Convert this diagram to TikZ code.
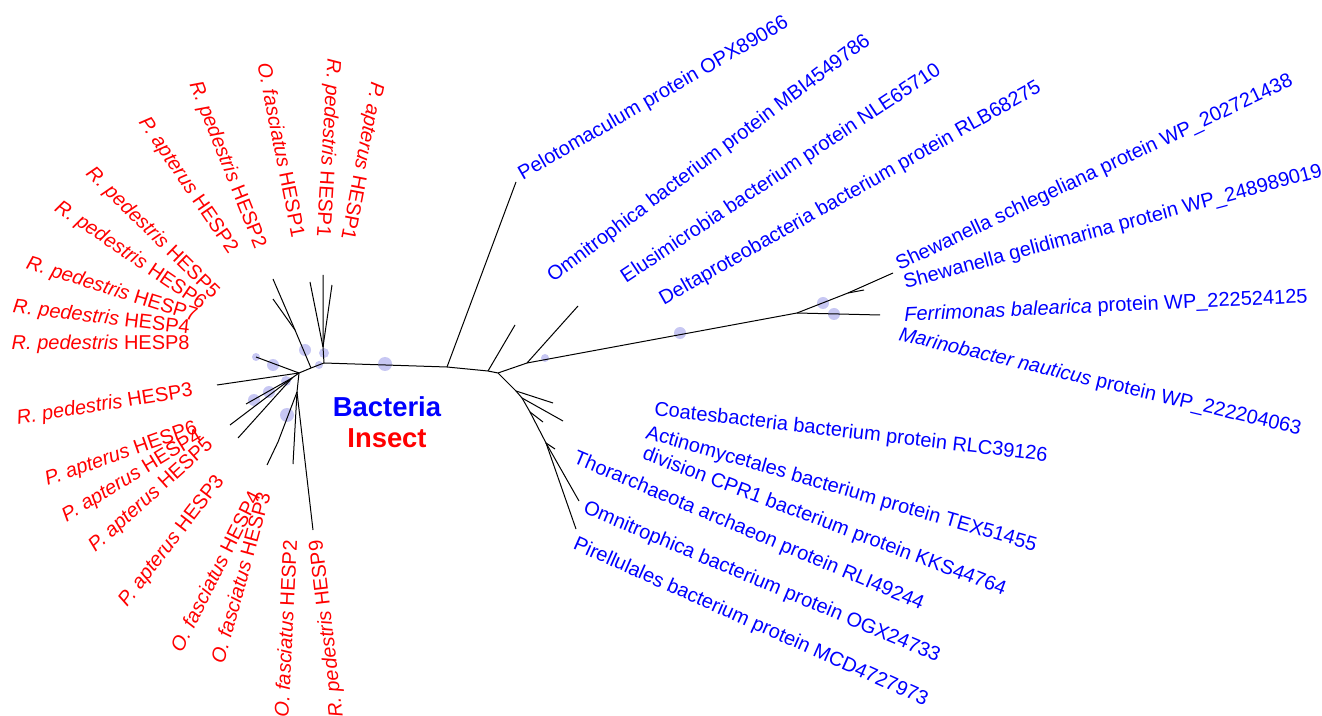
\documentclass[tikz,border=0pt]{standalone}
\usepackage{fontspec}
\setmainfont{Liberation Sans}
\usetikzlibrary{positioning}
\definecolor{lavanda}{RGB}{196,196,242}
\tikzstyle{rama} = [black, line width=0.5pt]
\tikzstyle{soporte} = [fill=lavanda, fill opacity=0.95, draw=none]
\tikzstyle{insecto} = [text=red, inner sep=0pt, anchor=east, font=\fontsize{10}{12}\selectfont]
\tikzstyle{bacteria} = [text=blue, inner sep=0pt, anchor=west, font=\fontsize{10}{12}\selectfont]
\tikzstyle{grupo} = [inner sep=0pt, font=\fontsize{13.7}{16}\selectfont\bfseries]
\newcommand{\especie}[1]{\textit{#1}}

\begin{document}
\begin{tikzpicture}[x=0.5pt, y=-0.5pt]
	\useasboundingbox (0,0) rectangle (1322,716);
	% soporte de ramas
	\fill[soporte] (385,364) circle (7);
	\fill[soporte] (305,350) circle (6);
	\fill[soporte] (324,353) circle (5);
	\fill[soporte] (319,365) circle (4);
	\fill[soporte] (256,357) circle (4);
	\fill[soporte] (273,365) circle (6);
	\fill[soporte] (286,381) circle (5);
	\fill[soporte] (269,392) circle (6);
	\fill[soporte] (254,400) circle (6);
	\fill[soporte] (287,415) circle (7);
	\fill[soporte] (545,358) circle (4);
	\fill[soporte] (680,333) circle (6);
	\fill[soporte] (823,303) circle (6);
	\fill[soporte] (834,314) circle (6);
	% nodos internos
	\coordinate (A) at (324,363);
	\coordinate (A1) at (323,347);
	\coordinate (D) at (311,368);
	\coordinate (E) at (295,330);
	\coordinate (C) at (299,373);
	\coordinate (F) at (292,378);
	\coordinate (K) at (297,392);
	\coordinate (K1) at (278,442);
	\coordinate (B1) at (447,367);
	\coordinate (B2) at (488,371);
	\coordinate (B3) at (498,373);
	\coordinate (N1) at (527,363);
	\coordinate (N2) at (797,313);
	\coordinate (N3) at (848,293);
	\coordinate (M1) at (516,391);
	\coordinate (M2) at (522,398);
	\coordinate (M3) at (530,412);
	\coordinate (M4) at (546,443);
	% hojas
	\coordinate (l1) at (323,275);
	\coordinate (l2) at (310,282);
	\coordinate (l3) at (332,285);
	\coordinate (l4) at (273,279);
	\coordinate (l5) at (273,299);
	\coordinate (l6) at (256,357);
	\coordinate (l7) at (217,385);
	\coordinate (l8) at (230,425);
	\coordinate (l9) at (238,438);
	\coordinate (l10) at (246,404);
	\coordinate (l11) at (267,465);
	\coordinate (l12) at (293,464);
	\coordinate (l13) at (313,530);
	\coordinate (pelo) at (516,182);
	\coordinate (omni) at (515,325);
	\coordinate (elus) at (578,306);
	\coordinate (shs) at (893,273);
	\coordinate (shg) at (864,290);
	\coordinate (ferr) at (880,315);
	\coordinate (coat) at (553,403);
	\coordinate (acti) at (563,421);
	\coordinate (divi) at (543,422);
	\coordinate (thor) at (555,449);
	\coordinate (ogx) at (579,501);
	\coordinate (pire) at (576,529);
	% ramas
	\draw[rama] (A) -- (B1) -- (B2) -- (B3);
	\draw[rama] (B1) -- (pelo);
	\draw[rama] (B2) -- (omni);
	\draw[rama] (B3) -- (N1) -- (elus);
	\draw[rama] (N1) -- (N2) -- (ferr);
	\draw[rama] (N2) -- (N3) -- (shs);
	\draw[rama] (N3) -- (shg);
	\draw[rama] (B3) -- (M1) -- (coat);
	\draw[rama] (M1) -- (M2) -- (acti);
	\draw[rama] (M2) -- (M3) -- (divi);
	\draw[rama] (M3) -- (M4) -- (thor);
	\draw[rama] (M4) -- (ogx);
	\draw[rama] (M4) -- (pire);
	\draw[rama] (A) -- (A1) -- (l1);
	\draw[rama] (A1) -- (l2);
	\draw[rama] (A1) -- (l3);
	\draw[rama] (A) -- (D) -- (C);
	\draw[rama] (D) -- (E) -- (l4);
	\draw[rama] (E) -- (l5);
	\draw[rama] (C) -- (l6);
	\draw[rama] (C) -- (l7);
	\draw[rama] (C) -- (F) -- (l8);
	\draw[rama] (F) -- (l9);
	\draw[rama] (F) -- (l10);
	\draw[rama] (C) -- (K) -- (K1) -- (l11);
	\draw[rama] (K) -- (l12);
	\draw[rama] (K) -- (l13);
	% insectos
	\node[insecto, rotate=-100.9] (ptHESP1) at (346,240) {\especie{P. apterus} HESP1};
	\node[insecto, rotate=-93.5] (rpHESP1) at (322,237) {\especie{R. pedestris} HESP1};
	\node[insecto, rotate=-78.7] (ofHESP1) at (299,237) {\especie{O. fasciatus} HESP1};
	\node[insecto, rotate=-68.3] (rpHESP2) at (260,248) {\especie{R. pedestris} HESP2};
	\node[insecto, rotate=-55.6] (ptHESP2) at (233,252) {\especie{P. apterus} HESP2};
	\node[insecto, rotate=-44.5] (rpHESP5) at (216,296) {\especie{R. pedestris} HESP5};
	\node[insecto, rotate=-34.2] (rpHESP6) at (204,306) {\especie{R. pedestris} HESP6};
	\node[insecto, rotate=-17.5] (rpHESP7) at (197,317) {\especie{R. pedestris} HESP7};
	\node[insecto, rotate=-6.9] (rpHESP4) at (190,329) {\especie{R. pedestris} HESP4};
	\node[insecto] (rpHESP8) at (190,344) {\especie{R. pedestris} HESP8};
	\node[insecto, rotate=9.2] (rpHESP3) at (193,391) {\especie{R. pedestris} HESP3};
	\node[insecto, rotate=19.4] (ptHESP6) at (197,428) {\especie{P. apterus} HESP6};
	\node[insecto, rotate=31.2] (ptHESP4) at (201,435) {\especie{P. apterus} HESP4};
	\node[insecto, rotate=42.1] (ptHESP5) at (211,442) {\especie{P. apterus} HESP5};
	\node[insecto, rotate=52.4] (ptHESP3) at (221,478) {\especie{P. apterus} HESP3};
	\node[insecto, rotate=63.3] (ofHESP4) at (255,492) {\especie{O. fasciatus} HESP4};
	\node[insecto, rotate=74.6] (ofHESP3) at (264,492) {\especie{O. fasciatus} HESP3};
	\node[insecto, rotate=87.2] (ofHESP2) at (290,540) {\especie{O. fasciatus} HESP2};
	\node[insecto, rotate=96.7] (rpHESP9) at (317,540) {\especie{R. pedestris} HESP9};
	% bacterias
	\node[bacteria, rotate=30] (opx) at (520,176) {Pelotomaculum protein OPX89066};
	\node[bacteria, rotate=37] (mbi) at (550,279) {Omnitrophica bacterium protein MBI4549786};
	\node[bacteria, rotate=33.6] (nle) at (623,279) {Elusimicrobia bacterium protein NLE65710};
	\node[bacteria, rotate=29.5] (rlb) at (661,301) {Deltaproteobacteria bacterium protein RLB68275};
	\node[bacteria, rotate=25.2] (wp1) at (897,266) {Shewanella schlegeliana protein WP\_202721438};
	\node[bacteria, rotate=15.1] (wp2) at (904,284) {Shewanella gelidimarina protein WP\_248989019};
	\node[bacteria, rotate=2.6] (wp3) at (904,316) {\especie{Ferrimonas balearica} protein WP\_222524125};
	\node[bacteria, rotate=-13.3] (wp4) at (899,335) {\especie{Marinobacter nauticus} protein WP\_222204063};
	\node[bacteria, rotate=-6.7] (rlc) at (654,410) {Coatesbacteria bacterium protein RLC39126};
	\node[bacteria, rotate=-16.2] (tex) at (646,433) {Actinomycetales bacterium protein TEX51455};
	\node[bacteria, rotate=-20.7] (kks) at (643,454) {division CPR1 bacterium protein KKS44764};
	\node[bacteria, rotate=-22.9] (rli) at (574,458) {Thorarchaeota archaeon protein RLI49244};
	\node[bacteria, rotate=-22.8] (ogxt) at (584,508) {Omnitrophica bacterium protein OGX24733};
	\node[bacteria, rotate=-24] (mcd) at (574,544) {Pirellulales bacterium protein MCD4727973};
	% leyenda
	\node[grupo, text=blue] (bact) at (387,407) {Bacteria};
	\node[grupo, text=red, below=5.5pt of bact] (ins) {Insect};
\end{tikzpicture}
\end{document}
